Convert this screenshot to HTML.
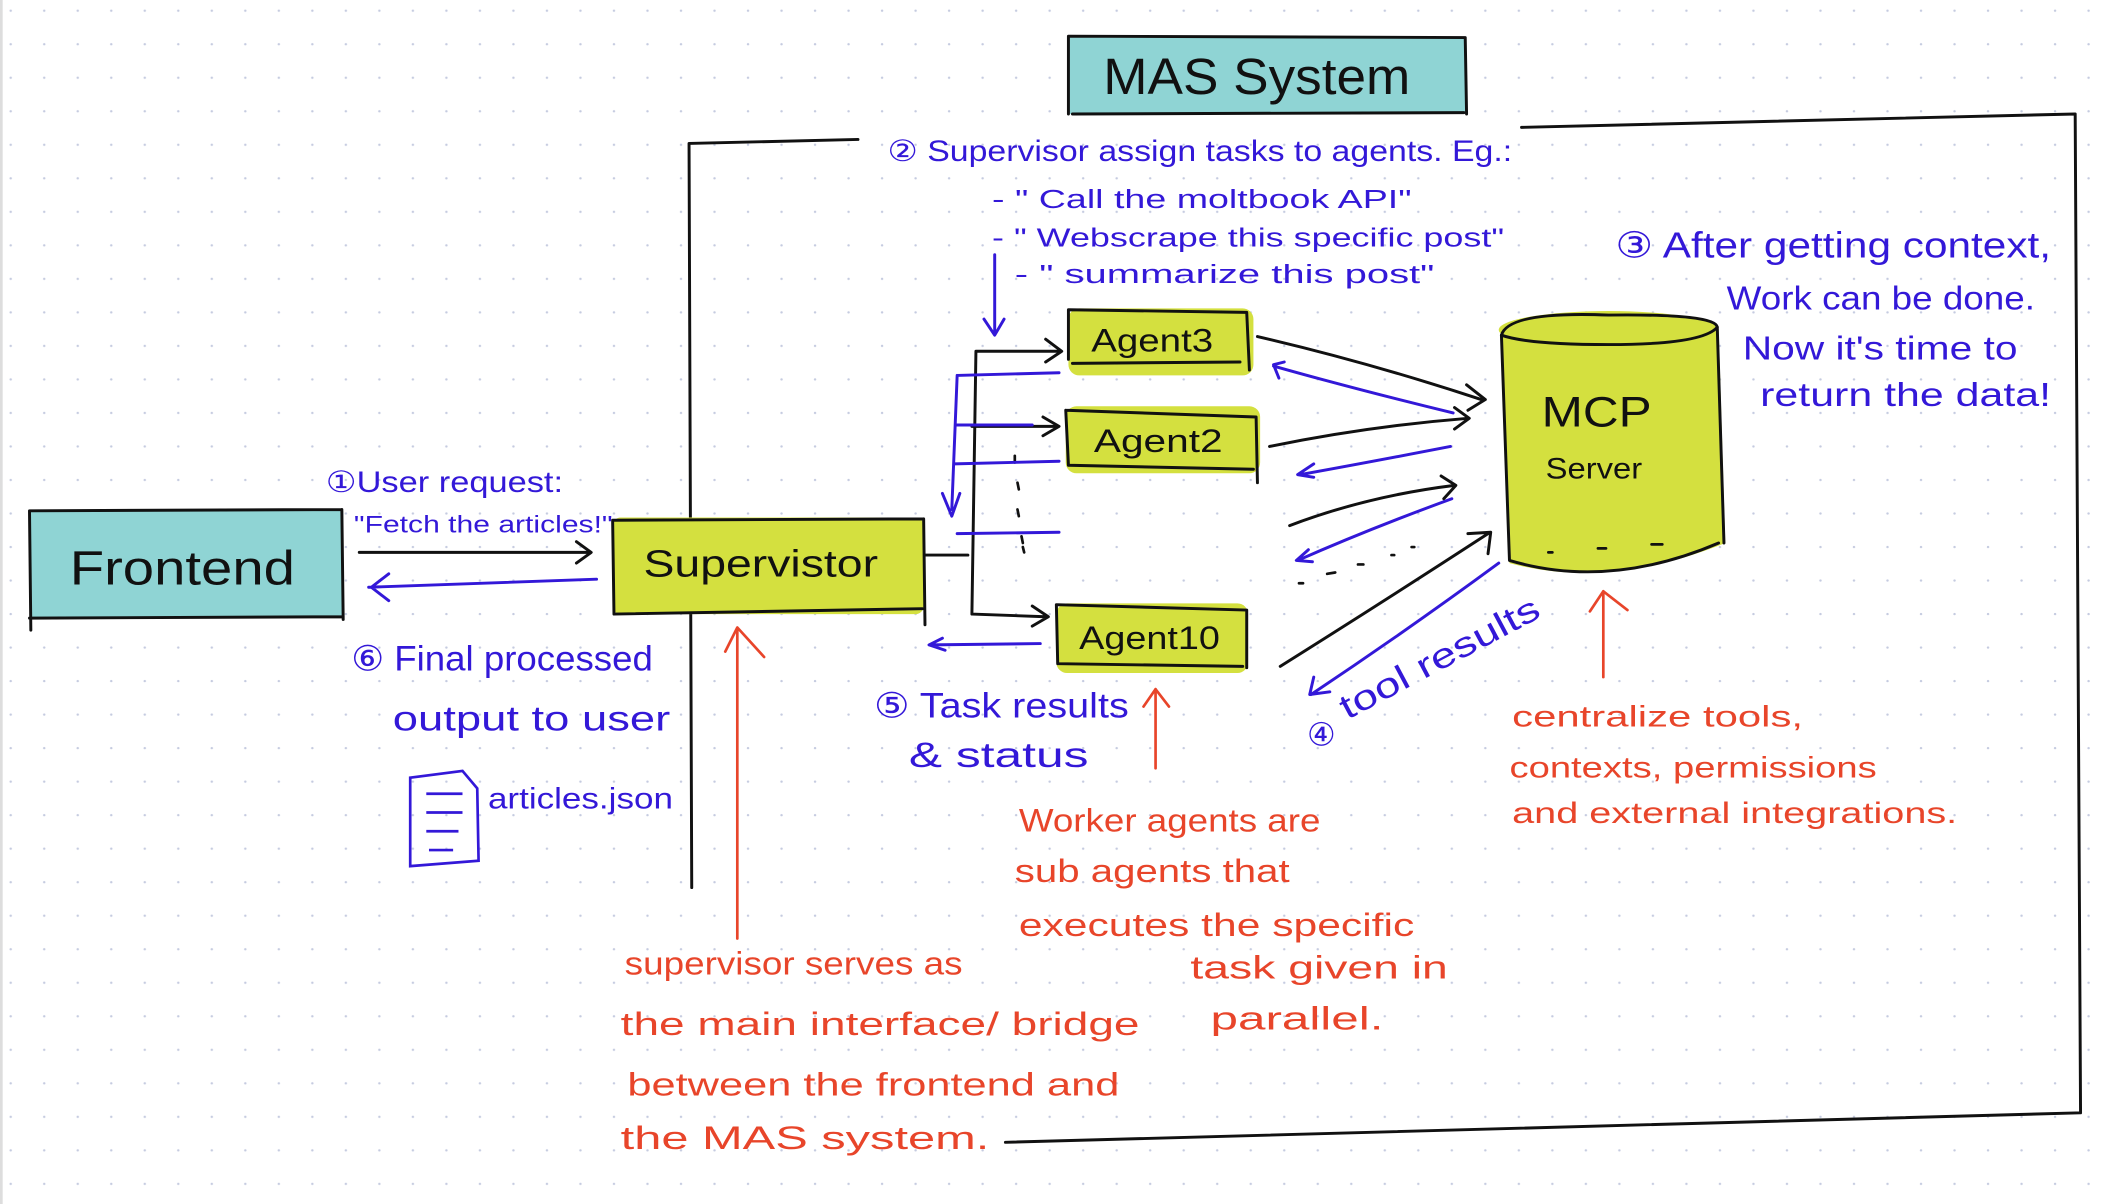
<!DOCTYPE html>
<html><head><style>
html,body{margin:0;padding:0;background:#fff;}
svg{display:block;}
text{font-family:"Liberation Sans",sans-serif;}
</style></head><body>
<svg width="2102" height="1204" viewBox="0 0 1568 898" preserveAspectRatio="none" xmlns="http://www.w3.org/2000/svg">
<defs>
<pattern id="g" width="25" height="25" patternUnits="userSpaceOnUse" x="5" y="5">
<circle cx="3" cy="3" r="0.9" fill="#c5cbe0"/>
</pattern>
</defs>
<rect width="1568" height="898" fill="#fff"/>
<rect width="1568" height="898" fill="url(#g)"/>
<line x1="1" y1="0" x2="1" y2="898" stroke="#ddd" stroke-width="2"/>

<g fill="none" stroke="#111" stroke-width="2.2" stroke-linecap="round" stroke-linejoin="round">
<rect x="797" y="28" width="296" height="57" fill="#8fd4d4" stroke="none"/>
<path d="M797 27 L1093 28 M797 27 L797 85 M1093 28 L1094 85 M800 85 L1092 84"/>
<path d="M514 107 L640 104 M514 107 L516 662 M1135 95 L1548 85 L1552 830 L750 852"/>
<rect x="22" y="381" width="234" height="80" fill="#8fd4d4" stroke="none"/>
<path d="M22 381 L255 380 M22 381 L23 470 M255 380 L256 462 M22 461 L256 460"/>
<rect x="457" y="386" width="232" height="72" rx="6" fill="#d4e03f" stroke="none"/>
<path d="M457 388 L689 387 M457 388 L458 458 M689 387 L690 466 M458 458 L688 454"/>
<rect x="797" y="230" width="138" height="50" rx="8" fill="#d4e03f" stroke="none"/>
<path d="M797 231 L930 233 L932 276 M797 231 L797 268 M800 271 L925 270"/>
<rect x="795" y="303" width="145" height="50" rx="8" fill="#d4e03f" stroke="none"/>
<path d="M795 306 L937 311 L938 360 M795 306 L797 347 M797 347 L935 350"/>
<rect x="788" y="450" width="143" height="52" rx="8" fill="#d4e03f" stroke="none"/>
<path d="M788 451 L930 455 L930 498 M788 451 L789 495 M790 495 L927 497"/>
<path d="M1120 250 L1126 420 Q1200 440 1287 405 L1282 245 Z" fill="#d4e03f" stroke="none"/>
<ellipse cx="1200" cy="246" rx="82" ry="14" fill="#d4e03f" stroke="none"/>
<path d="M1120 250 Q1125 232 1200 235 Q1280 234 1281 244 Q1270 257 1200 257 Q1140 257 1120 250"/>
<path d="M1120 250 L1126 418 Q1200 440 1282 405 M1281 244 L1286 405"/>
<path d="M1155 412 L1158 412 M1192 409 L1198 409 M1232 406 L1240 406" stroke-width="2"/>
<path d="M690 414 L722 414 M728 262 L725 458 M728 262 L790 262 M780 253 L792 262 L780 270 M725 318 L788 318 M778 311 L790 318 L778 325 M725 458 L780 460 M770 452 L782 460 L770 467"/>
<path d="M757 340 L757 345 M759 360 L760 365 M759 380 L760 385 M762 400 L763 405 M763 408 L764 412" stroke-width="2"/>
<path d="M268 412 L440 412 M430 404 L441 412 L430 420"/>
<path d="M938 251 Q1020 270 1105 298 M1094 287 L1108 298 L1095 306"/>
<path d="M947 333 Q1020 318 1095 312 M1085 304 L1096 312 L1085 320"/>
<path d="M962 392 Q1020 370 1085 362 M1075 355 L1086 362 L1077 372"/>
<path d="M955 497 Q1030 450 1110 398 M1095 398 L1112 397 L1110 413"/>
<path d="M969 435 L972 435 M990 428 L996 427 M1013 421 L1017 421 M1038 414 L1040 414 M1053 408 L1055 408" stroke-width="2"/>
</g>

<g fill="none" stroke="#3318d8" stroke-width="2.2" stroke-linecap="round" stroke-linejoin="round">
<path d="M275 438 L445 432 M290 428 L277 438 L290 448"/>
<path d="M742 190 L742 248 M734 238 L742 250 L749 238"/>
<path d="M714 280 L790 278 M714 280 L710 380 M703 368 L710 385 L716 368 M712 346 L790 344 M714 398 L790 397 M713 317 L770 317"/>
<path d="M776 480 L695 481 M703 476 L693 481 L705 485"/>
<path d="M1084 308 Q1010 290 950 273 M958 270 L950 272 L954 282"/>
<path d="M1082 333 Q1020 345 970 354 M980 346 L968 354 L980 356"/>
<path d="M1083 372 Q1020 395 968 418 M976 410 L967 418 L979 419"/>
<path d="M1118 420 Q1050 470 978 518 M980 505 L977 518 L992 516"/>
</g>

<g fill="none" stroke="#e8452a" stroke-width="2" stroke-linecap="round" stroke-linejoin="round">
<path d="M550 700 L550 470 M541 486 L550 468 L570 490"/>
<path d="M862 573 L862 514 M853 527 L862 514 L872 527"/>
<path d="M1196 505 L1196 441 M1186 456 L1196 441 L1214 455"/>
</g>

<g fill="none" stroke="#3318d8" stroke-width="2">
<path d="M306 580 L306 646 L357 642 L356 588 L345 575 Z"/>
<path d="M318 592 L345 592 M318 606 L345 606 M318 620 L342 620 M320 634 L338 634"/>
</g>

<g fill="#111" lengthAdjust="spacingAndGlyphs">
<text x="823" y="70" font-size="38" textLength="229" lengthAdjust="spacingAndGlyphs">MAS System</text>
<text x="52" y="436" font-size="36" textLength="168" lengthAdjust="spacingAndGlyphs">Frontend</text>
<text x="480" y="430" font-size="28" textLength="175" lengthAdjust="spacingAndGlyphs">Supervistor</text>
<text x="814" y="262" font-size="24" textLength="91" lengthAdjust="spacingAndGlyphs">Agent3</text>
<text x="816" y="337" font-size="24" textLength="96" lengthAdjust="spacingAndGlyphs">Agent2</text>
<text x="805" y="484" font-size="24" textLength="105" lengthAdjust="spacingAndGlyphs">Agent10</text>
<text x="1150" y="318" font-size="32" textLength="82" lengthAdjust="spacingAndGlyphs">MCP</text>
<text x="1153" y="357" font-size="22" textLength="72" lengthAdjust="spacingAndGlyphs">Server</text>
</g>

<g fill="#3318d8">
<text x="662" y="120" font-size="22" textLength="466" lengthAdjust="spacingAndGlyphs">② Supervisor assign tasks to agents. Eg.:</text>
<text x="740" y="155" font-size="19" textLength="313" lengthAdjust="spacingAndGlyphs">- " Call the moltbook API"</text>
<text x="740" y="184" font-size="19" textLength="382" lengthAdjust="spacingAndGlyphs">- " Webscrape this specific post"</text>
<text x="757" y="211" font-size="19" textLength="313" lengthAdjust="spacingAndGlyphs">- " summarize this post"</text>
<text x="1205" y="192" font-size="27" textLength="325" lengthAdjust="spacingAndGlyphs">③ After getting context,</text>
<text x="1288" y="231" font-size="25" textLength="230" lengthAdjust="spacingAndGlyphs">Work can be done.</text>
<text x="1300" y="268" font-size="25" textLength="205" lengthAdjust="spacingAndGlyphs">Now it's time to</text>
<text x="1313" y="303" font-size="25" textLength="217" lengthAdjust="spacingAndGlyphs">return the data!</text>
<text x="243" y="367" font-size="22" textLength="177" lengthAdjust="spacingAndGlyphs">①User request:</text>
<text x="264" y="397" font-size="18" textLength="193" lengthAdjust="spacingAndGlyphs">"Fetch the articles!"</text>
<text x="262" y="500" font-size="26" textLength="225" lengthAdjust="spacingAndGlyphs">⑥ Final processed</text>
<text x="293" y="545" font-size="26" textLength="207" lengthAdjust="spacingAndGlyphs">output to user</text>
<text x="364" y="603" font-size="22" textLength="138" lengthAdjust="spacingAndGlyphs">articles.json</text>
<text x="652" y="535" font-size="26" textLength="190" lengthAdjust="spacingAndGlyphs">⑤ Task results</text>
<text x="678" y="572" font-size="26" textLength="134" lengthAdjust="spacingAndGlyphs">&amp; status</text>
<text x="975" y="556" font-size="24">④</text>
<text x="1005" y="537" font-size="26" textLength="165" lengthAdjust="spacingAndGlyphs" transform="rotate(-28 1005 537)">tool results</text>
</g>

<g fill="#e8452a">
<text x="1128" y="542" font-size="22" textLength="217" lengthAdjust="spacingAndGlyphs">centralize tools,</text>
<text x="1126" y="580" font-size="22" textLength="274" lengthAdjust="spacingAndGlyphs">contexts, permissions</text>
<text x="1128" y="614" font-size="22" textLength="332" lengthAdjust="spacingAndGlyphs">and external integrations.</text>
<text x="760" y="620" font-size="24" textLength="225" lengthAdjust="spacingAndGlyphs">Worker agents are</text>
<text x="757" y="658" font-size="24" textLength="205" lengthAdjust="spacingAndGlyphs">sub agents that</text>
<text x="760" y="698" font-size="24" textLength="295" lengthAdjust="spacingAndGlyphs">executes the specific</text>
<text x="888" y="730" font-size="24" textLength="192" lengthAdjust="spacingAndGlyphs">task given in</text>
<text x="903" y="768" font-size="24" textLength="129" lengthAdjust="spacingAndGlyphs">parallel.</text>
<text x="466" y="727" font-size="24" textLength="252" lengthAdjust="spacingAndGlyphs">supervisor serves as</text>
<text x="463" y="772" font-size="24" textLength="387" lengthAdjust="spacingAndGlyphs">the main interface/ bridge</text>
<text x="468" y="817" font-size="24" textLength="367" lengthAdjust="spacingAndGlyphs">between the frontend and</text>
<text x="463" y="857" font-size="24" textLength="275" lengthAdjust="spacingAndGlyphs">the MAS system.</text>
</g>
</svg>
</body></html>
